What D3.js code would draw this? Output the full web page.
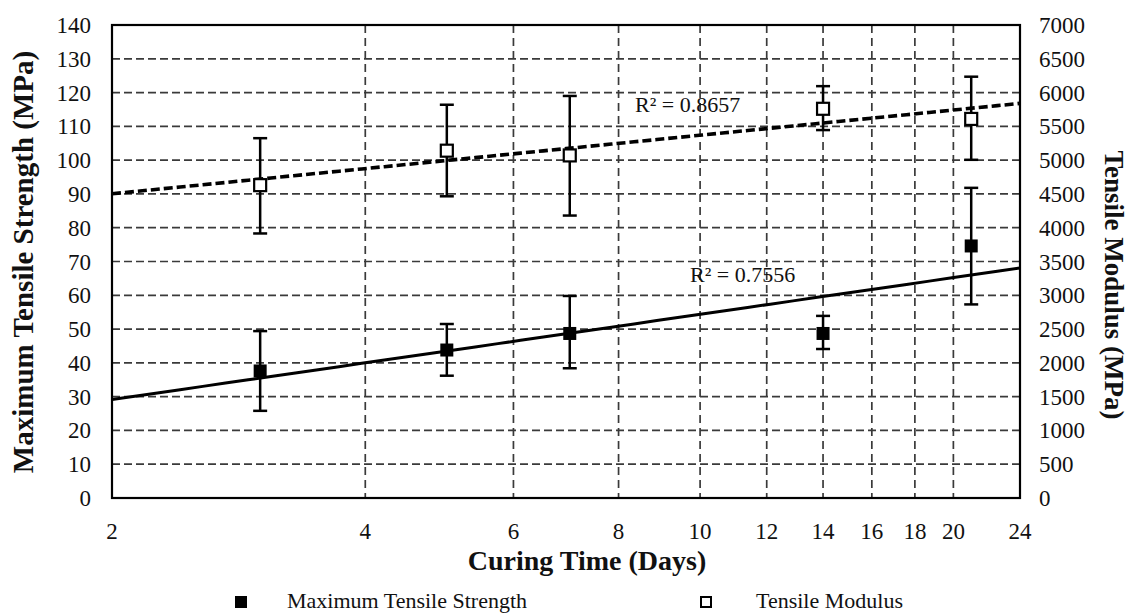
<!DOCTYPE html>
<html><head><meta charset="utf-8">
<script src="https://cdn.jsdelivr.net/npm/d3@7"></script>
<style>body{margin:0;background:#fff} text{font-family:"Liberation Serif","Times New Roman",serif;fill:#111}</style>
</head><body>
<svg id="c" width="1129" height="614"></svg>
<script>
// ---- data ----
const days = [3, 5, 7, 14, 21];
const strength = [37.6, 43.8, 48.7, 48.7, 74.6];
const strengthLow = [25.8, 36.2, 38.4, 44.1, 57.3];
const strengthHigh = [49.4, 51.5, 59.8, 53.9, 91.8];
const modulus = [4630, 5140, 5070, 5760, 5610];
const modulusLow = [3915, 4465, 4180, 5445, 5005];
const modulusHigh = [5325, 5820, 5950, 6095, 6235];
const xTicks = [2, 4, 6, 8, 10, 12, 14, 16, 18, 20, 24];
const leftTicks = [0,10,20,30,40,50,60,70,80,90,100,110,120,130,140];
const rightTicks = [0,500,1000,1500,2000,2500,3000,3500,4000,4500,5000,5500,6000,6500,7000];
const r2Labels = ["R² = 0.8657", "R² = 0.7556"];
const legendLabels = ["Maximum Tensile Strength", "Tensile Modulus"];

// ---- layout ----
const L = 112, R = 1020, T = 25, B = 498;
const svg = d3.select("#c");
const x = d3.scaleLog().domain([2, 24]).range([L, R]);
const yL = d3.scaleLinear().domain([0, 140]).range([B, T]);
const yR = d3.scaleLinear().domain([0, 7000]).range([B, T]);

// gridlines
const g = svg.append("g");
g.selectAll("line.h").data(leftTicks.filter(v => v > 0 && v < 140)).join("line")
  .attr("x1", L).attr("x2", R).attr("y1", d => yL(d)).attr("y2", d => yL(d))
  .attr("stroke", "#3a3a3a").attr("stroke-width", 1.7).attr("stroke-dasharray", "8,4");
g.selectAll("line.v").data(xTicks.filter(v => v > 2 && v < 24)).join("line")
  .attr("y1", T).attr("y2", B).attr("x1", d => x(d)).attr("x2", d => x(d))
  .attr("stroke", "#3a3a3a").attr("stroke-width", 1.7).attr("stroke-dasharray", "8,5");

// trend lines (log fit)
function logFit(xs, ys) {
  const lx = xs.map(Math.log), mx = d3.mean(lx), my = d3.mean(ys);
  let sxy = 0, sxx = 0;
  lx.forEach((v, i) => { sxy += (v - mx) * (ys[i] - my); sxx += (v - mx) ** 2; });
  const b = sxy / sxx, a = my - b * mx;
  return t => a + b * Math.log(t);
}
const fitS = logFit(days, strength), fitM = logFit(days, modulus);
const samples = d3.range(0, 41).map(i => 2 * Math.pow(12, i / 40));
svg.append("path").attr("d", d3.line().x(d => x(d)).y(d => yL(fitS(d)))(samples))
  .attr("fill", "none").attr("stroke", "#000").attr("stroke-width", 3);
svg.append("path").attr("d", d3.line().x(d => x(d)).y(d => yR(fitM(d)))(samples))
  .attr("fill", "none").attr("stroke", "#000").attr("stroke-width", 3.6).attr("stroke-dasharray", "9,4");

// error bars
function errBars(lo, hi, ys) {
  const eg = svg.append("g").attr("stroke", "#000").attr("stroke-width", 2.5);
  days.forEach((d, i) => {
    eg.append("line").attr("x1", x(d)).attr("x2", x(d)).attr("y1", ys(lo[i])).attr("y2", ys(hi[i]));
    [lo[i], hi[i]].forEach(v => eg.append("line").attr("x1", x(d) - 7).attr("x2", x(d) + 7)
      .attr("y1", ys(v)).attr("y2", ys(v)));
  });
}
errBars(strengthLow, strengthHigh, yL);
errBars(modulusLow, modulusHigh, yR);

// markers
const S = 13;
svg.selectAll("rect.s").data(days).join("rect")
  .attr("x", d => x(d) - S / 2).attr("y", (d, i) => yL(strength[i]) - S / 2)
  .attr("width", S).attr("height", S).attr("fill", "#000");
svg.selectAll("rect.m").data(days).join("rect")
  .attr("x", d => x(d) - 6).attr("y", (d, i) => yR(modulus[i]) - 6)
  .attr("width", 12).attr("height", 12).attr("fill", "#fff").attr("stroke", "#000").attr("stroke-width", 2.2);

// frame
svg.append("rect").attr("x", L).attr("y", T).attr("width", R - L).attr("height", B - T)
  .attr("fill", "none").attr("stroke", "#000").attr("stroke-width", 2.2);

// tick labels
svg.selectAll("text.yl").data(leftTicks).join("text")
  .attr("x", 91).attr("y", d => yL(d)).attr("dy", "0.35em").attr("text-anchor", "end")
  .attr("font-size", 23).text(d => d);
svg.selectAll("text.yr").data(rightTicks).join("text")
  .attr("x", 1039).attr("y", d => yR(d)).attr("dy", "0.35em").attr("text-anchor", "start")
  .attr("font-size", 23).text(d => d);
svg.selectAll("text.xl").data(xTicks).join("text")
  .attr("x", d => x(d)).attr("y", 539).attr("text-anchor", "middle")
  .attr("font-size", 23).text(d => d);

// axis titles
svg.append("text").attr("x", 587).attr("y", 570).attr("text-anchor", "middle")
  .attr("font-size", 28).attr("font-weight", "bold").text("Curing Time (Days)");
svg.append("text").attr("transform", "translate(33,262) rotate(-90)").attr("text-anchor", "middle")
  .attr("font-size", 29).attr("font-weight", "bold").text("Maximum Tensile Strength (MPa)");
svg.append("text").attr("transform", "translate(1105,285) rotate(90)").attr("text-anchor", "middle")
  .attr("font-size", 27).attr("font-weight", "bold").text("Tensile Modulus (MPa)");

// R² labels
svg.append("text").attr("x", 635).attr("y", 112).attr("font-size", 22).text(r2Labels[0]);
svg.append("text").attr("x", 690).attr("y", 282).attr("font-size", 22).text(r2Labels[1]);

// legend
svg.append("rect").attr("x", 235).attr("y", 596).attr("width", 12).attr("height", 12).attr("fill", "#000");
svg.append("text").attr("x", 287).attr("y", 608).attr("font-size", 22).text(legendLabels[0]);
svg.append("rect").attr("x", 701).attr("y", 597).attr("width", 10).attr("height", 10)
  .attr("fill", "#fff").attr("stroke", "#000").attr("stroke-width", 2);
svg.append("text").attr("x", 756).attr("y", 608).attr("font-size", 22).text(legendLabels[1]);
</script>
</body></html>
